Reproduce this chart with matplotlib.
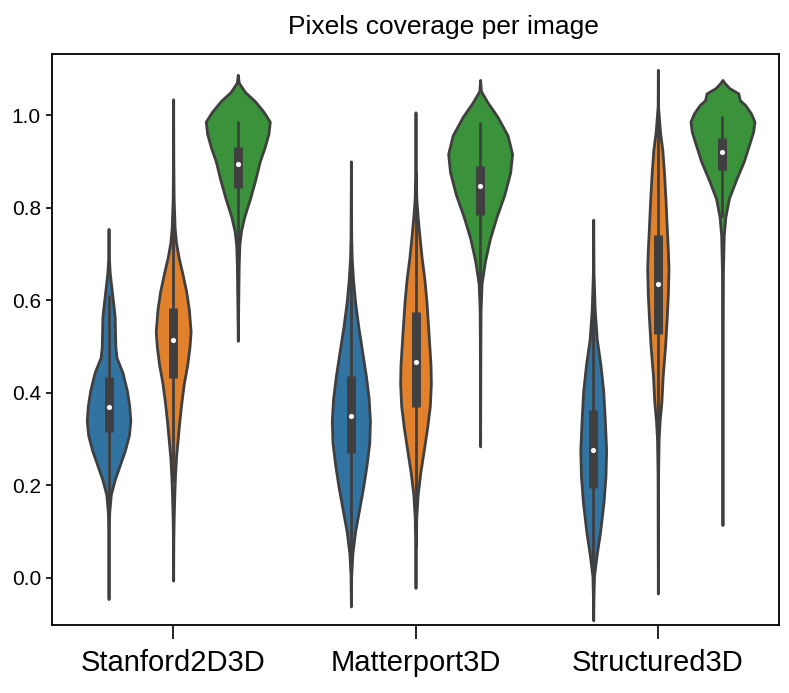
import matplotlib
matplotlib.use("Agg")
import matplotlib.pyplot as plt
import numpy as np

plt.rcParams['font.family'] = ['Liberation Sans', 'DejaVu Sans']

datasets = ["Stanford2D3D", "Matterport3D", "Structured3D"]
colors = ["#3274a1", "#e1812c", "#3a923a"]
gray = "#3f3f3f"

# violin outlines: coverage level and relative half width
stan_a_y = [0.754, 0.692, 0.66, 0.62, 0.596, 0.564, 0.50, 0.476, 0.444, 0.404, 0.372, 0.34,
            0.308, 0.276, 0.244, 0.212, 0.18, 0.14, 0.10, 0.02, -0.046]
stan_a_d = [0.0, 0.01, 0.036, 0.10, 0.14, 0.19, 0.21, 0.245, 0.43, 0.57, 0.64, 0.675,
            0.63, 0.51, 0.35, 0.19, 0.07, 0.02, 0.01, 0.005, 0.0]
stan_b_y = [1.034, 0.90, 0.82, 0.756, 0.724, 0.692, 0.66, 0.62, 0.58, 0.532, 0.50, 0.46,
            0.42, 0.38, 0.34, 0.30, 0.26, 0.22, 0.18, 0.124, 0.076, -0.006]
stan_b_d = [0.0, 0.005, 0.015, 0.046, 0.088, 0.17, 0.277, 0.40, 0.486, 0.54, 0.507, 0.434,
            0.33, 0.256, 0.193, 0.14, 0.088, 0.057, 0.036, 0.015, 0.005, 0.0]
stan_c_y = [1.087, 1.07, 1.05, 1.03, 1.007, 0.986, 0.96, 0.93, 0.90, 0.86, 0.82, 0.78,
            0.75, 0.72, 0.68, 0.60, 0.512]
stan_c_d = [0.0, 0.03, 0.22, 0.53, 0.80, 0.99, 0.95, 0.83, 0.68, 0.54, 0.38, 0.20,
            0.10, 0.05, 0.03, 0.015, 0.0]

matt_a_y = [0.90, 0.82, 0.74, 0.692, 0.644, 0.596, 0.54, 0.484, 0.436, 0.388, 0.34, 0.292,
            0.244, 0.196, 0.148, 0.10, 0.052, 0.004, -0.062]
matt_a_d = [0.0, 0.005, 0.01, 0.025, 0.067, 0.13, 0.235, 0.36, 0.465, 0.55, 0.59, 0.57,
            0.486, 0.38, 0.256, 0.13, 0.046, 0.01, 0.0]
matt_b_y = [1.006, 0.90, 0.82, 0.78, 0.74, 0.692, 0.644, 0.596, 0.532, 0.46, 0.42, 0.372,
            0.324, 0.276, 0.228, 0.18, 0.132, 0.076, -0.022]
matt_b_d = [0.0, 0.005, 0.025, 0.067, 0.12, 0.19, 0.277, 0.34, 0.40, 0.465, 0.476, 0.444,
            0.36, 0.256, 0.15, 0.067, 0.025, 0.01, 0.0]
matt_c_y = [1.076, 1.052, 1.028, 0.996, 0.956, 0.916, 0.876, 0.828, 0.78, 0.732, 0.684,
            0.636, 0.58, 0.50, 0.284]
matt_c_d = [0.0, 0.025, 0.224, 0.54, 0.85, 0.99, 0.93, 0.75, 0.507, 0.30, 0.15,
            0.046, 0.015, 0.008, 0.0]

stru_a_y = [0.774, 0.66, 0.58, 0.516, 0.46, 0.404, 0.34, 0.276, 0.22, 0.164, 0.10, 0.052,
            0.004, -0.044, -0.092]
stru_a_d = [0.0, 0.01, 0.046, 0.11, 0.224, 0.31, 0.36, 0.40, 0.38, 0.32, 0.214, 0.11,
            0.025, 0.008, 0.0]
stru_b_y = [1.098, 1.02, 0.964, 0.924, 0.876, 0.82, 0.756, 0.708, 0.668, 0.612, 0.564, 0.50,
            0.436, 0.38, 0.34, 0.30, 0.22, 0.10, -0.034]
stru_b_d = [0.0, 0.005, 0.067, 0.14, 0.19, 0.235, 0.277, 0.31, 0.33, 0.31, 0.277, 0.224,
            0.15, 0.11, 0.057, 0.025, 0.008, 0.005, 0.0]
stru_c_y = [1.076, 1.069, 1.058, 1.047, 1.032, 1.022, 1.004, 0.986, 0.964, 0.935, 0.90,
            0.86, 0.82, 0.78, 0.74, 0.66, 0.50, 0.114]
stru_c_d = [0.0, 0.07, 0.22, 0.49, 0.54, 0.70, 0.88, 0.99, 0.95, 0.82, 0.66,
            0.42, 0.20, 0.09, 0.04, 0.015, 0.008, 0.0]

# inner box stats, rows = dataset, cols = hue
q1 = [[0.316, 0.432, 0.842], [0.270, 0.370, 0.784], [0.194, 0.526, 0.882]]
med = [[0.370, 0.514, 0.894], [0.350, 0.466, 0.846], [0.276, 0.634, 0.920]]
q3 = [[0.434, 0.582, 0.930], [0.436, 0.574, 0.890], [0.362, 0.740, 0.951]]
whis_lo = [[0.139, 0.207, 0.710], [0.021, 0.064, 0.625], [0.0, 0.205, 0.780]]
whis_hi = [[0.611, 0.807, 0.988], [0.685, 0.880, 0.986], [0.614, 1.0, 0.998]]

profiles = [
    [(stan_a_y, stan_a_d), (stan_b_y, stan_b_d), (stan_c_y, stan_c_d)],
    [(matt_a_y, matt_a_d), (matt_b_y, matt_b_d), (matt_c_y, matt_c_d)],
    [(stru_a_y, stru_a_d), (stru_b_y, stru_b_d), (stru_c_y, stru_c_d)],
]

fig = plt.figure(figsize=(7.89, 6.93), dpi=100)
ax = fig.add_axes([52 / 789, 1 - 625 / 693, 727 / 789, 571 / 693])

lw = 2.0
hue_w = 0.8 / 3
for i in range(len(datasets)):
    for j in range(3):
        y, d = profiles[i][j]
        y = np.array(y)
        d = np.array(d)
        pos = i + (j - 1) * hue_w
        stats = [dict(coords=y, vals=d, mean=med[i][j], median=med[i][j],
                      min=y.min(), max=y.max())]
        parts = ax.violin(stats, positions=[pos], widths=[hue_w * d.max()],
                          showmeans=False, showextrema=False, showmedians=False)
        for b in parts['bodies']:
            b.set_facecolor(colors[j])
            b.set_edgecolor(gray)
            b.set_linewidth(lw)
            b.set_joinstyle('round')
            b.set_alpha(1)
            b.set_zorder(1)
        ax.plot([pos, pos], [whis_lo[i][j], whis_hi[i][j]], color=gray, lw=lw,
                solid_capstyle='butt', zorder=2)
        ax.plot([pos, pos], [q1[i][j], q3[i][j]], color=gray, lw=lw * 3.2,
                solid_capstyle='butt', zorder=2)
        ax.scatter([pos], [med[i][j]], s=14, color='white', zorder=3, linewidths=0)

ax.set_xlim(-0.5, 2.5)
ax.set_ylim(-0.102, 1.132)
ax.set_xticks(range(len(datasets)))
ax.set_xticklabels(datasets, fontsize=21)
ax.set_yticks([0.0, 0.2, 0.4, 0.6, 0.8, 1.0])
ax.set_yticklabels(["0.0", "0.2", "0.4", "0.6", "0.8", "1.0"], fontsize=15)
ax.tick_params(axis='x', length=10, width=1.2, pad=7, color='black')
ax.tick_params(axis='y', length=4, width=1.2, pad=4, color='black')
for s in ax.spines.values():
    s.set_linewidth(1.3)
    s.set_color('black')

fig.text(443 / 789, 1 - 34 / 693, "Pixels coverage per image", ha='center',
         va='baseline', fontsize=19)

fig.savefig("out.png", dpi=100)
